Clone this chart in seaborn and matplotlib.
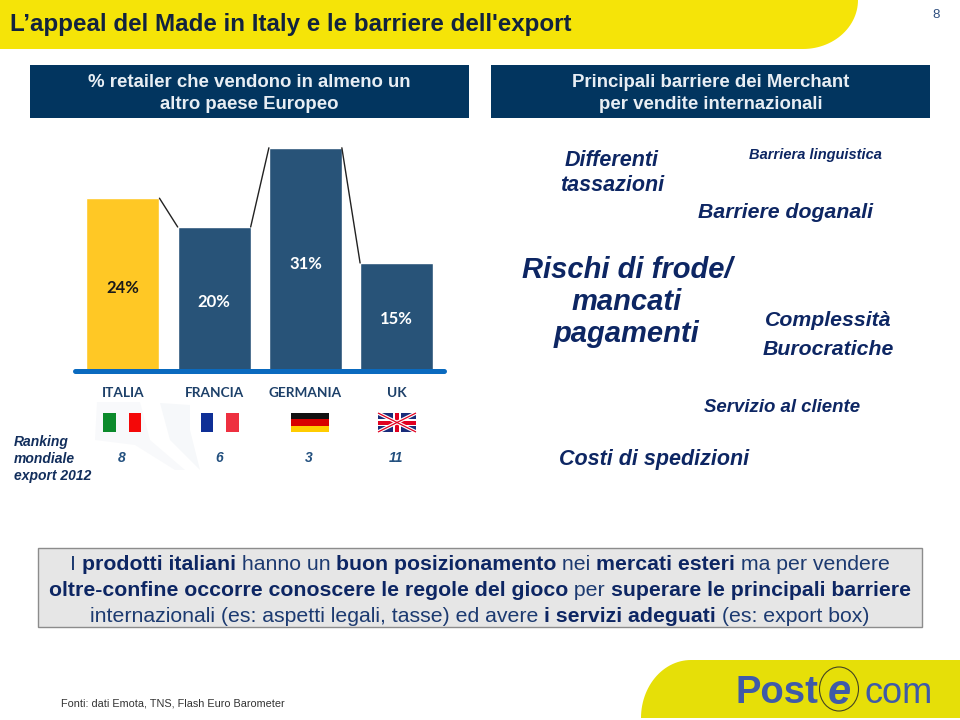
import numpy as np
import pandas as pd
import matplotlib
matplotlib.use('Agg')
import matplotlib.pyplot as plt
import seaborn as sns
from matplotlib.patches import Rectangle, Polygon, Ellipse

countries = ['ITALIA', 'FRANCIA', 'GERMANIA', 'UK']
retailer_pct = [24, 20, 31, 15]
ranking = ['8', '6', '3', '11']
bar_colors = ['#FFC825', '#285378', '#285378', '#285378']
label_colors = ['#1A1A1A', 'white', 'white', 'white']

title = 'L’appeal del Made in Italy e le barriere dell\'export'
left_head = '% retailer che vendono in almeno un\naltro paese Europeo'
right_head = 'Principali barriere dei Merchant\nper vendite internazionali'
source = 'Fonti: dati Emota, TNS, Flash Euro Barometer'

barriers = ['Differenti\ntassazioni', 'Barriera linguistica', 'Barriere doganali',
            'Rischi di frode/\nmancati\npagamenti', 'Complessità\nBurocratiche',
            'Servizio al cliente', 'Costi di spedizioni']

note_lines = [
    [('I ', 0), ('prodotti italiani', 1), (' hanno un ', 0), ('buon posizionamento', 1), (' nei ', 0),
     ('mercati esteri', 1), (' ma per vendere', 0)],
    [('oltre-confine occorre conoscere le regole del gioco', 1), (' per ', 0),
     ('superare le principali barriere', 1)],
    [('internazionali (es: aspetti legali, tasse) ed avere ', 0), ('i servizi adeguati', 1),
     (' (es: export box)', 0)],
]

NAVY = '#0D2663'
sns.set_theme(style='white')
plt.rcParams['font.family'] = ['Liberation Sans', 'DejaVu Sans']

fig = plt.figure(figsize=(9.6, 7.2), dpi=100)

# page layer in pixel coordinates
bg = fig.add_axes([0, 0, 1, 1], zorder=0)
bg.set_xlim(0, 960)
bg.set_ylim(720, 0)
bg.axis('off')

# yellow header and footer shapes
t = np.linspace(0, np.pi / 2, 30)
head_x = np.r_[0, 0, 803 + 55 * np.sin(t), 0]
head_y = np.r_[0, 49, 49 - 49 * (1 - np.cos(t)), 0]
bg.add_patch(Polygon(np.c_[head_x, head_y], color='#F5E408', lw=0))
foot_x = np.r_[641 + 50 * (1 - np.cos(t)), 960, 960]
foot_y = np.r_[718 - 58 * np.sin(t), 660, 718]
bg.add_patch(Polygon(np.c_[foot_x, foot_y], color='#E6DF08', lw=0))

bg.text(10, 24, title, fontsize=17.35, fontweight='bold', color='#12233F', va='center')
bg.text(936, 15, '8', fontsize=9.5, color='#2F4F7F', ha='center', va='center')

for x0, x1, txt in [(30, 469, left_head), (491, 930, right_head)]:
    bg.add_patch(Rectangle((x0, 65), x1 - x0, 53, color='#02355F', lw=0))
    bg.text((x0 + x1) / 2, 93.5, txt, color='#E8EEF4', fontsize=13.4, ha='center', va='center',
            fontweight='bold', linespacing=1.33)

# faint map behind the flags
bg.add_patch(Polygon([(97, 402), (140, 402), (150, 440), (185, 470), (175, 470), (135, 445), (95, 440)],
                     color='#F8F9FB', lw=0))
bg.add_patch(Polygon([(160, 403), (190, 405), (190, 430), (200, 470), (170, 440)], color='#F6F8FA', lw=0))

# bars
ax = fig.add_axes([75 / 960, (720 - 371) / 720, 369 / 960, 230.4 / 720], zorder=2)
df = pd.DataFrame({'country': countries, 'pct': retailer_pct})
sns.barplot(data=df, x='country', y='pct', hue='country', palette=bar_colors, legend=False,
            width=0.8, saturation=1, ax=ax)
ax.set_xlim(-0.526, 3.52)
ax.set_ylim(0, 32)
ax.axis('off')
ax.patch.set_alpha(0)
ax.plot([-0.526, 3.52], [0, 0], color='#0A6ABF', lw=3.6, solid_capstyle='round', clip_on=False)
for i in range(len(retailer_pct) - 1):
    ax.plot([i + 0.4, i + 0.6], [retailer_pct[i], retailer_pct[i + 1]], color='#222222', lw=1)
for i, v in enumerate(retailer_pct):
    ax.text(i, v * 0.48, f'{v}%', color=label_colors[i], fontsize=12, fontweight='bold',
            family='Lato', ha='center', va='center')

# country names, flags, ranking
centers = [123, 214, 305.5, 397]
for c, name in zip(centers, countries):
    bg.text(c, 393, name, fontsize=9.8, fontweight='bold', family='Lato', color='#1D4069', ha='center', va='center')
for c, r in zip([122, 219, 309, 396.5], ranking):
    bg.text(c, 458, r, fontsize=10, fontweight='bold', style='italic', color='#23507F', ha='center', va='center')
bg.text(14, 459, 'Ranking\nmondiale\nexport 2012', fontsize=10, style='italic', fontweight='bold',
        color='#122E5C', va='center', linespacing=1.3)

bg.add_patch(Rectangle((103, 413), 13, 19, color='#0B8A2B', lw=0))
bg.add_patch(Rectangle((129, 413), 12, 19, color='#F40808', lw=0))
bg.add_patch(Rectangle((201, 413), 12, 19, color='#0F2F96', lw=0))
bg.add_patch(Rectangle((226, 413), 13, 19, color='#EE3040', lw=0))
for k, col in enumerate(['#111111', '#D80000', '#FFCC00']):
    bg.add_patch(Rectangle((291, 413 + k * 6.33), 38, 6.4, color=col, lw=0))
bg.add_patch(Rectangle((378, 413), 38, 19, color='#1A2C7A', lw=0))
bg.plot([378, 416], [413, 432], color='white', lw=2.6, solid_capstyle='butt')
bg.plot([378, 416], [432, 413], color='white', lw=2.6, solid_capstyle='butt')
bg.plot([378, 416], [413, 432], color='#E00020', lw=0.9, solid_capstyle='butt')
bg.plot([378, 416], [432, 413], color='#E00020', lw=0.9, solid_capstyle='butt')
bg.add_patch(Rectangle((378, 419), 38, 7, color='white', lw=0))
bg.add_patch(Rectangle((393, 413), 8, 19, color='white', lw=0))
bg.add_patch(Rectangle((378, 420.5), 38, 4, color='#E00020', lw=0))
bg.add_patch(Rectangle((395, 413), 4, 19, color='#E00020', lw=0))

# word cloud placement: size, x, y, line spacing
cloud_layout = [(15.5, 612, 173, 1.3), (10.5, 815, 155.5, 1.2), (15.3, 785, 213, 1.2), (21, 627, 302, 1.2),
                (15.3, 828, 335, 1.7), (13.4, 782, 408, 1.2), (15.5, 654, 460, 1.2)]
for txt, (size, x, y, ls) in zip(barriers, cloud_layout):
    bg.text(x, y, txt, fontsize=size, style='italic', fontweight='bold',
            color=NAVY, ha='center', va='center', linespacing=ls)

# note box with mixed bold runs
bg.add_patch(Rectangle((38, 548), 884, 79, facecolor='#E6E6E6', edgecolor='#8C8C8C', lw=1))
fig.canvas.draw()
rend = fig.canvas.get_renderer()
NOTE_SIZE = 15.35


def run_width(txt, weight):
    # spaces at the ends of a run need something either side to be measured
    probe = bg.text(0, 0, '|' + txt + '|', fontsize=NOTE_SIZE, fontweight=weight)
    bars = bg.text(0, 0, '||', fontsize=NOTE_SIZE, fontweight=weight)
    w = probe.get_window_extent(rend).width - bars.get_window_extent(rend).width
    probe.remove()
    bars.remove()
    return w


for line, y in zip(note_lines, [563.5, 589, 614.5]):
    weights = ['bold' if b else 'normal' for _, b in line]
    widths = [run_width(txt, w) for (txt, _), w in zip(line, weights)]
    x = 480 - sum(widths) / 2
    for (txt, _), w, wd in zip(line, weights, widths):
        bg.text(x, y + 7, txt, fontsize=NOTE_SIZE, fontweight=w, color=NAVY if w == 'bold' else '#1C3A70',
                va='baseline')
        x += wd

bg.text(61, 704, source, fontsize=7.8, color='#333333', va='center')

# logo
LOGO = '#3F5AA8'
bg.text(735, 703, 'Post', fontsize=27.5, fontweight='bold', color=LOGO, va='baseline')
bg.add_patch(Ellipse((839, 689), 39, 44, facecolor='none', edgecolor='#444422', lw=0.8))
bg.text(839, 689, 'e', fontsize=30, fontweight='bold', style='italic', color=LOGO, ha='center', va='center_baseline')
bg.text(864, 703, 'com', fontsize=26, color=LOGO, va='baseline')

fig.savefig('out.png', dpi=100)
